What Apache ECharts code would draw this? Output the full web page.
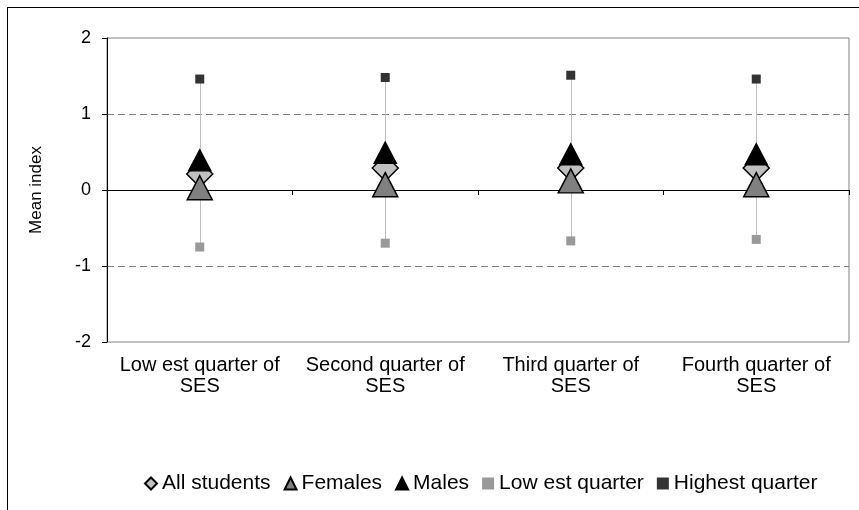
<!DOCTYPE html>
<html>
<head>
<meta charset="utf-8">
<title>Mean index by SES quarter</title>
<script src="https://cdn.jsdelivr.net/npm/echarts@6/dist/echarts.min.js"></script>
<style>
    html, body {margin: 0; padding: 0; background: #fff;}
    #app {width: 859px; height: 510px;}
</style>
</head>
<body>
<div id="app"></div>
<script>
// 数据
let categories = ["Low est quarter of\nSES", "Second quarter of\nSES", "Third quarter of\nSES", "Fourth quarter of\nSES"];
let allStudents = [0.21, 0.29, 0.29, 0.29];
let females = [0.03, 0.07, 0.12, 0.07];
let males = [0.39, 0.49, 0.47, 0.47];
let lowestQuarter = [-0.75, -0.70, -0.67, -0.65];
let highestQuarter = [1.46, 1.48, 1.51, 1.46];
let yTicks = [-2, -1, 0, 1, 2];

let font = "'Liberation Sans', Arial, sans-serif";

let draw = () => {
    let myChart = echarts.init(document.querySelector("#app"));
    // 低-高 竖线
    let rangeData = categories.map((c, i) => [i, lowestQuarter[i], highestQuarter[i]]);
    myChart.setOption({
        animation: false,
        textStyle: {fontFamily: font},
        // 外框
        graphic: [
            {type: "line", shape: {x1: 7, y1: 7.5, x2: 859, y2: 7.5}, style: {stroke: "#000", lineWidth: 1}},
            {type: "line", shape: {x1: 7.5, y1: 7, x2: 7.5, y2: 510}, style: {stroke: "#000", lineWidth: 1}}
        ],
        grid: {
            left: 107,
            top: 38,
            right: 10,
            bottom: 168,
            show: true,
            borderColor: "#808080",
            borderWidth: 1
        },
        legend: {
            left: 139,
            top: 468,
            itemWidth: 12,
            itemHeight: 12,
            itemGap: 13,
            textStyle: {fontSize: 21, color: "#000", fontFamily: font},
            data: ["All students", "Females", "Males", "Low est quarter", "Highest quarter"]
        },
        xAxis: [
            {
                // 下方标签
                type: "category",
                data: categories,
                position: "bottom",
                axisLine: {show: false, onZero: false},
                axisTick: {show: false},
                axisLabel: {
                    interval: 0,
                    margin: 13,
                    fontSize: 20,
                    lineHeight: 21,
                    color: "#000",
                    fontFamily: font
                }
            },
            {
                // 零线
                type: "category",
                data: categories,
                position: "top",
                axisLine: {show: true, onZero: true, lineStyle: {color: "#000", width: 1}},
                axisTick: {show: true, inside: true, length: 5, lineStyle: {color: "#000"}},
                axisLabel: {show: false}
            }
        ],
        yAxis: {
            type: "value",
            min: yTicks[0],
            max: yTicks[yTicks.length - 1],
            interval: 1,
            name: "Mean index",
            nameLocation: "middle",
            nameGap: 62,
            nameTextStyle: {fontSize: 17, color: "#000", fontFamily: font},
            axisLine: {show: true, lineStyle: {color: "#000"}},
            axisTick: {show: true, length: 5, lineStyle: {color: "#000"}},
            axisLabel: {fontSize: 18, color: "#000", margin: 16, fontFamily: font},
            splitLine: {
                show: true,
                showMinLine: false,
                showMaxLine: false,
                lineStyle: {color: "#808080", type: [7, 4], width: 1}
            }
        },
        series: [
            {
                name: "range",
                type: "custom",
                z: 1,
                data: rangeData,
                encode: {x: 0, y: [1, 2]},
                renderItem: (params, api) => {
                    let p1 = api.coord([api.value(0), api.value(1)]);
                    let p2 = api.coord([api.value(0), api.value(2)]);
                    return {
                        type: "line",
                        shape: {x1: Math.round(p1[0]) + 0.5, y1: p1[1], x2: Math.round(p2[0]) + 0.5, y2: p2[1]},
                        style: {stroke: "#c0c0c0", lineWidth: 1}
                    };
                }
            },
            {
                name: "Low est quarter",
                type: "scatter",
                z: 2,
                symbol: "rect",
                symbolSize: 9,
                itemStyle: {color: "#999999", opacity: 1},
                data: lowestQuarter
            },
            {
                name: "Highest quarter",
                type: "scatter",
                z: 2,
                symbol: "rect",
                symbolSize: 9,
                itemStyle: {color: "#333333", opacity: 1},
                data: highestQuarter
            },
            {
                name: "All students",
                type: "scatter",
                z: 3,
                symbol: "diamond",
                symbolSize: 26,
                itemStyle: {color: "#c0c0c0", borderColor: "#000", borderWidth: 1.5, opacity: 1},
                data: allStudents
            },
            {
                name: "Females",
                type: "scatter",
                z: 4,
                symbol: "triangle",
                symbolSize: [25, 24],
                itemStyle: {color: "#808080", borderColor: "#000", borderWidth: 1.5, opacity: 1},
                data: females
            },
            {
                name: "Males",
                type: "scatter",
                z: 5,
                symbol: "triangle",
                symbolSize: [22, 21],
                itemStyle: {color: "#000000", borderColor: "#000", borderWidth: 1.5, opacity: 1},
                data: males
            }
        ]
    });
};
draw();
</script>
</body>
</html>
